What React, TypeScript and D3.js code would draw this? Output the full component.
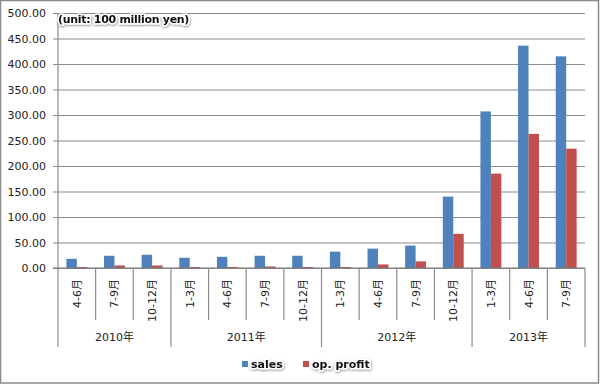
import * as d3 from "d3";
import React, { useRef, useEffect } from "react";

// quarterly figures, unit: 100 million yen
const years = ["2010年", "2011年", "2012年", "2013年"];
const quarters = [
  ["4-6月", "7-9月", "10-12月"],
  ["1-3月", "4-6月", "7-9月", "10-12月"],
  ["1-3月", "4-6月", "7-9月", "10-12月"],
  ["1-3月", "4-6月", "7-9月"],
];
const sales = [18, 24, 26, 20, 22, 24, 24, 32, 38, 44, 140, 307, 436, 415];
const opProfit = [2, 5, 5, 2, 2, 3, 2, 2, 7, 13, 67, 185, 263, 234];
const yTicks = [0, 50, 100, 150, 200, 250, 300, 350, 400, 450, 500];
const seriesNames = ["sales", "op. profit"];
const colors = ["#4F81BD", "#C0504D"];

const W = 600;
const H = 384;
const FONT = "'DejaVu Sans', 'Noto Sans CJK JP', sans-serif";

function BarChart() {
  const ref = useRef<SVGSVGElement>(null);

  useEffect(() => {
    draw();
  }, []);

  const draw = () => {
    const svg = d3.select(ref.current);
    svg.selectAll("*").remove();

    const left = 58;
    const right = 585;
    const top = 13;
    const bottom = 268;

    // flatten categories with year index
    const cats: { label: string; year: number; i: number }[] = [];
    quarters.forEach((qs, yi) =>
      qs.forEach((q) => cats.push({ label: q, year: yi, i: cats.length }))
    );

    const x = d3
      .scaleBand<number>()
      .domain(cats.map((c) => c.i))
      .range([left, right])
      .paddingInner(0)
      .paddingOuter(0);

    const x1 = d3
      .scaleBand<number>()
      .domain([0, 1])
      .range([0, x.bandwidth()])
      .paddingOuter(0.8)
      .paddingInner(0);

    const y = d3.scaleLinear().domain([0, 500]).range([bottom, top]);

    const defs = svg.append("defs");
    const f = defs
      .append("filter")
      .attr("id", "glow")
      .attr("x", "-20%")
      .attr("y", "-40%")
      .attr("width", "140%")
      .attr("height", "180%");
    f.append("feDropShadow")
      .attr("dx", 0.5)
      .attr("dy", 1)
      .attr("stdDeviation", 1)
      .attr("flood-color", "#000")
      .attr("flood-opacity", 0.45);

    // outer frame
    svg
      .append("rect")
      .attr("x", 0.5)
      .attr("y", 0.5)
      .attr("width", W - 2)
      .attr("height", H - 1.5)
      .attr("fill", "#fff")
      .attr("stroke", "#8a8a8a")
      .attr("stroke-width", 1.5);

    // gridlines + y labels
    const yAxis = d3
      .axisLeft(y)
      .tickValues(yTicks)
      .tickSize(-(right - left + 5))
      .tickPadding(7)
      .tickFormat((d) => d3.format(".2f")(d as number));

    const gy = svg
      .append("g")
      .attr("transform", `translate(${left - 5},0)`)
      .call(yAxis);
    gy.select(".domain").remove();
    gy.selectAll(".tick line").attr("stroke", "#8c8c8c").attr("stroke-width", 1.2);
    gy.selectAll(".tick text")
      .attr("font-family", FONT)
      .attr("font-size", 11)
      .attr("fill", "#222");

    // bars
    const series = [sales, opProfit];
    series.forEach((vals, si) => {
      svg
        .append("g")
        .selectAll("rect")
        .data(vals)
        .enter()
        .append("rect")
        .attr("x", (d, i) => (x(i) as number) + (x1(si) as number))
        .attr("y", (d) => y(d))
        .attr("width", x1.bandwidth())
        .attr("height", (d) => bottom - y(d))
        .attr("fill", colors[si]);
    });

    // axes lines
    const axisColor = "#8c8c8c";
    svg
      .append("line")
      .attr("x1", left)
      .attr("x2", left)
      .attr("y1", top)
      .attr("y2", 347)
      .attr("stroke", axisColor)
      .attr("stroke-width", 1.2);
    svg
      .append("line")
      .attr("x1", left - 5)
      .attr("x2", right)
      .attr("y1", bottom)
      .attr("y2", bottom)
      .attr("stroke", "#777")
      .attr("stroke-width", 1.2);

    // category separators
    cats.forEach((c, i) => {
      if (i === 0) return;
      const isYear = cats[i - 1].year !== c.year;
      svg
        .append("line")
        .attr("x1", x(i) as number)
        .attr("x2", x(i) as number)
        .attr("y1", bottom)
        .attr("y2", isYear ? 347 : 320)
        .attr("stroke", axisColor)
        .attr("stroke-width", 1.2);
    });
    svg
      .append("line")
      .attr("x1", right)
      .attr("x2", right)
      .attr("y1", bottom)
      .attr("y2", 347)
      .attr("stroke", axisColor)
      .attr("stroke-width", 1.2);

    // category labels: rotated, reading upward, top edge just under the axis
    const labels = svg
      .append("g")
      .selectAll("text")
      .data(cats)
      .enter()
      .append("text")
      .attr("x", 0)
      .attr("y", 0)
      .attr("font-family", FONT)
      .attr("font-size", 11)
      .attr("fill", "#222")
      .text((d) => d.label);
    labels.each(function (d) {
      const bb = (this as SVGTextElement).getBBox();
      const len = bb.x + bb.width;
      d3.select(this).attr(
        "transform",
        `translate(${(x(d.i) as number) + x.bandwidth() / 2 + 4},${279 + len}) rotate(-90)`
      );
    });

    // year labels
    years.forEach((yr, yi) => {
      const idx = cats.filter((c) => c.year === yi).map((c) => c.i);
      const x0 = x(idx[0]) as number;
      const xe = (x(idx[idx.length - 1]) as number) + x.bandwidth();
      svg
        .append("text")
        .attr("x", (x0 + xe) / 2)
        .attr("y", 341)
        .attr("text-anchor", "middle")
        .attr("font-family", FONT)
        .attr("font-size", 11)
        .attr("fill", "#222")
        .text(yr);
    });

    // unit label
    svg
      .append("text")
      .attr("x", 58)
      .attr("y", 23)
      .attr("font-family", FONT)
      .attr("font-size", 11)
      .attr("font-weight", "bold")
      .attr("fill", "#111")
      .attr("stroke", "#fff")
      .attr("stroke-width", 3)
      .attr("paint-order", "stroke")
      .attr("filter", "url(#glow)")
      .attr("letter-spacing", -0.3)
      .text("(unit: 100 million yen)");

    // legend
    const legendX = [242, 303];
    seriesNames.forEach((name, i) => {
      svg
        .append("rect")
        .attr("x", legendX[i])
        .attr("y", 361)
        .attr("width", 6)
        .attr("height", 6)
        .attr("fill", colors[i]);
      svg
        .append("text")
        .attr("x", legendX[i] + 9)
        .attr("y", 368)
        .attr("font-family", FONT)
        .attr("font-size", 11)
        .attr("font-weight", "bold")
        .attr("fill", "#111")
        .attr("stroke", "#fff")
        .attr("stroke-width", 3)
        .attr("paint-order", "stroke")
        .attr("filter", "url(#glow)")
        .text(name);
    });
  };

  return <svg ref={ref} width={W} height={H} style={{ display: "block" }}></svg>;
}

export default function App() {
  return (
    <div style={{ position: "absolute", left: 0, top: 0 }}>
      <BarChart />
    </div>
  );
}
